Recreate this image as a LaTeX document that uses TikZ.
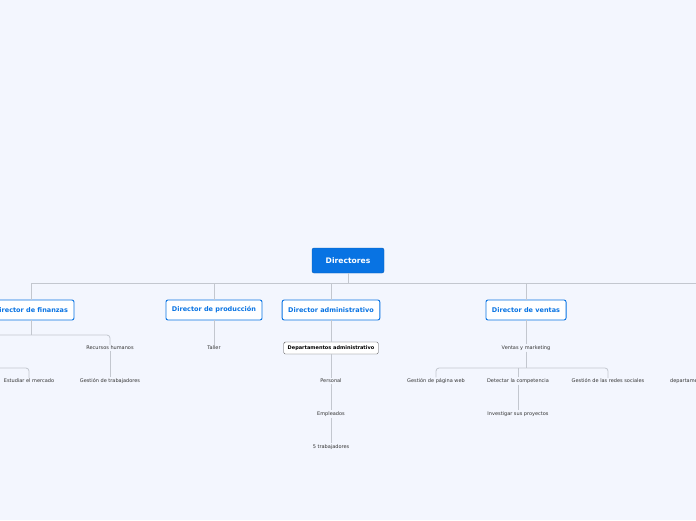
\documentclass[tikz,border=0pt]{standalone}
\usepackage{fontspec}
\setmainfont{DejaVu Sans}
\usetikzlibrary{positioning}
\definecolor{bgcol}{HTML}{F3F6FE}
\definecolor{rootblue}{HTML}{0873E3}
\definecolor{edgecol}{HTML}{C3C7CF}
\tikzset{
  rootbox/.style={fill=rootblue,draw=rootblue!80!black,rounded corners=2pt,text=white,font=\fontsize{7.6}{9}\selectfont\bfseries,minimum width=72pt,minimum height=25pt},
  dirbox/.style={fill=white,draw=rootblue,line width=0.9pt,rounded corners=2pt,text=rootblue,font=\fontsize{6.5}{8}\selectfont\bfseries,minimum height=20pt,inner xsep=6pt},
  deptbox/.style={fill=white,draw=black!70,rounded corners=1.5pt,font=\fontsize{5}{6}\selectfont\bfseries,minimum height=12pt,inner xsep=4pt},
  leaf/.style={font=\fontsize{5}{6}\selectfont,text=black!80,inner sep=1pt},
  link/.style={draw=edgecol,line width=0.8pt,rounded corners=3pt}
}
\begin{document}
\begin{tikzpicture}[x=1pt,y=-1pt]
\fill[bgcol] (0,0) rectangle (696,520);
\useasboundingbox (0,0) rectangle (696,520);
\clip (0,0) rectangle (696,520);
% root and directors
\node[rootbox] (root) at (348,260.5) {Directores};
\node[dirbox] (fin) at (31,310) {Director de finanzas};
\node[dirbox] (prod) at (214,310) {Director de producción};
\node[dirbox] (adm) at (331,310) {Director administrativo};
\node[dirbox] (ven) at (526,310) {Director de ventas};
\coordinate (busL) at (31,283);
\coordinate (busR) at (720,283);
\draw[link] (root.south) -- (348,283);
\draw[link] (busL) -- (busR);
\foreach \d in {fin,prod,adm,ven}
  \draw[link] (\d.north |- busL) -- (\d.north);
% finanzas
\node[leaf] (rrhh) at (110,348) {Recursos humanos};
\node[leaf] (gtrab) at (110,381) {Gestión de trabajadores};
\node[leaf] (merc) at (29,381) {Estudiar el mercado};
\draw[link] (fin.south) -- (31,335);
\draw[link] (-20,335) -- (110,335) -- (rrhh.north);
\draw[link] (rrhh.south) -- (gtrab.north);
\draw[link] (-20,368) -- (29,368) -- (merc.north);
% produccion
\node[leaf] (taller) at (214,348) {Taller};
\draw[link] (prod.south) -- (taller.north);
% administrativo
\node[deptbox] (dept) at (331,348) {Departamentos administrativo};
\node[leaf] (pers) at (331,381) {Personal};
\node[leaf] (empl) at (331,414) {Empleados};
\node[leaf] (cinco) at (331,447) {5 trabajadores};
\draw[link] (adm.south) -- (dept.north);
\draw[link] (dept.south) -- (pers.north);
\draw[link] (pers.south) -- (empl.north);
\draw[link] (empl.south) -- (cinco.north);
% ventas
\node[leaf] (vm) at (526,348) {Ventas y marketing};
\node[leaf] (web) at (436,381) {Gestión de página web};
\node[leaf] (comp) at (518,381) {Detectar la competencia};
\node[leaf] (redes) at (608,381) {Gestión de las redes sociales};
\node[leaf,anchor=west] (depto) at (669,381) {departamentos};
\node[leaf] (proy) at (518,414) {Investigar sus proyectos};
\draw[link] (ven.south) -- (vm.north);
\draw[link] (vm.south) -- (526,368);
\draw[link] (web.north) -- (436,368) -- (608,368) -- (redes.north);
\draw[link] (comp.north) -- (518,368);
\draw[link] (comp.south) -- (proy.north);
\end{tikzpicture}
\end{document}
